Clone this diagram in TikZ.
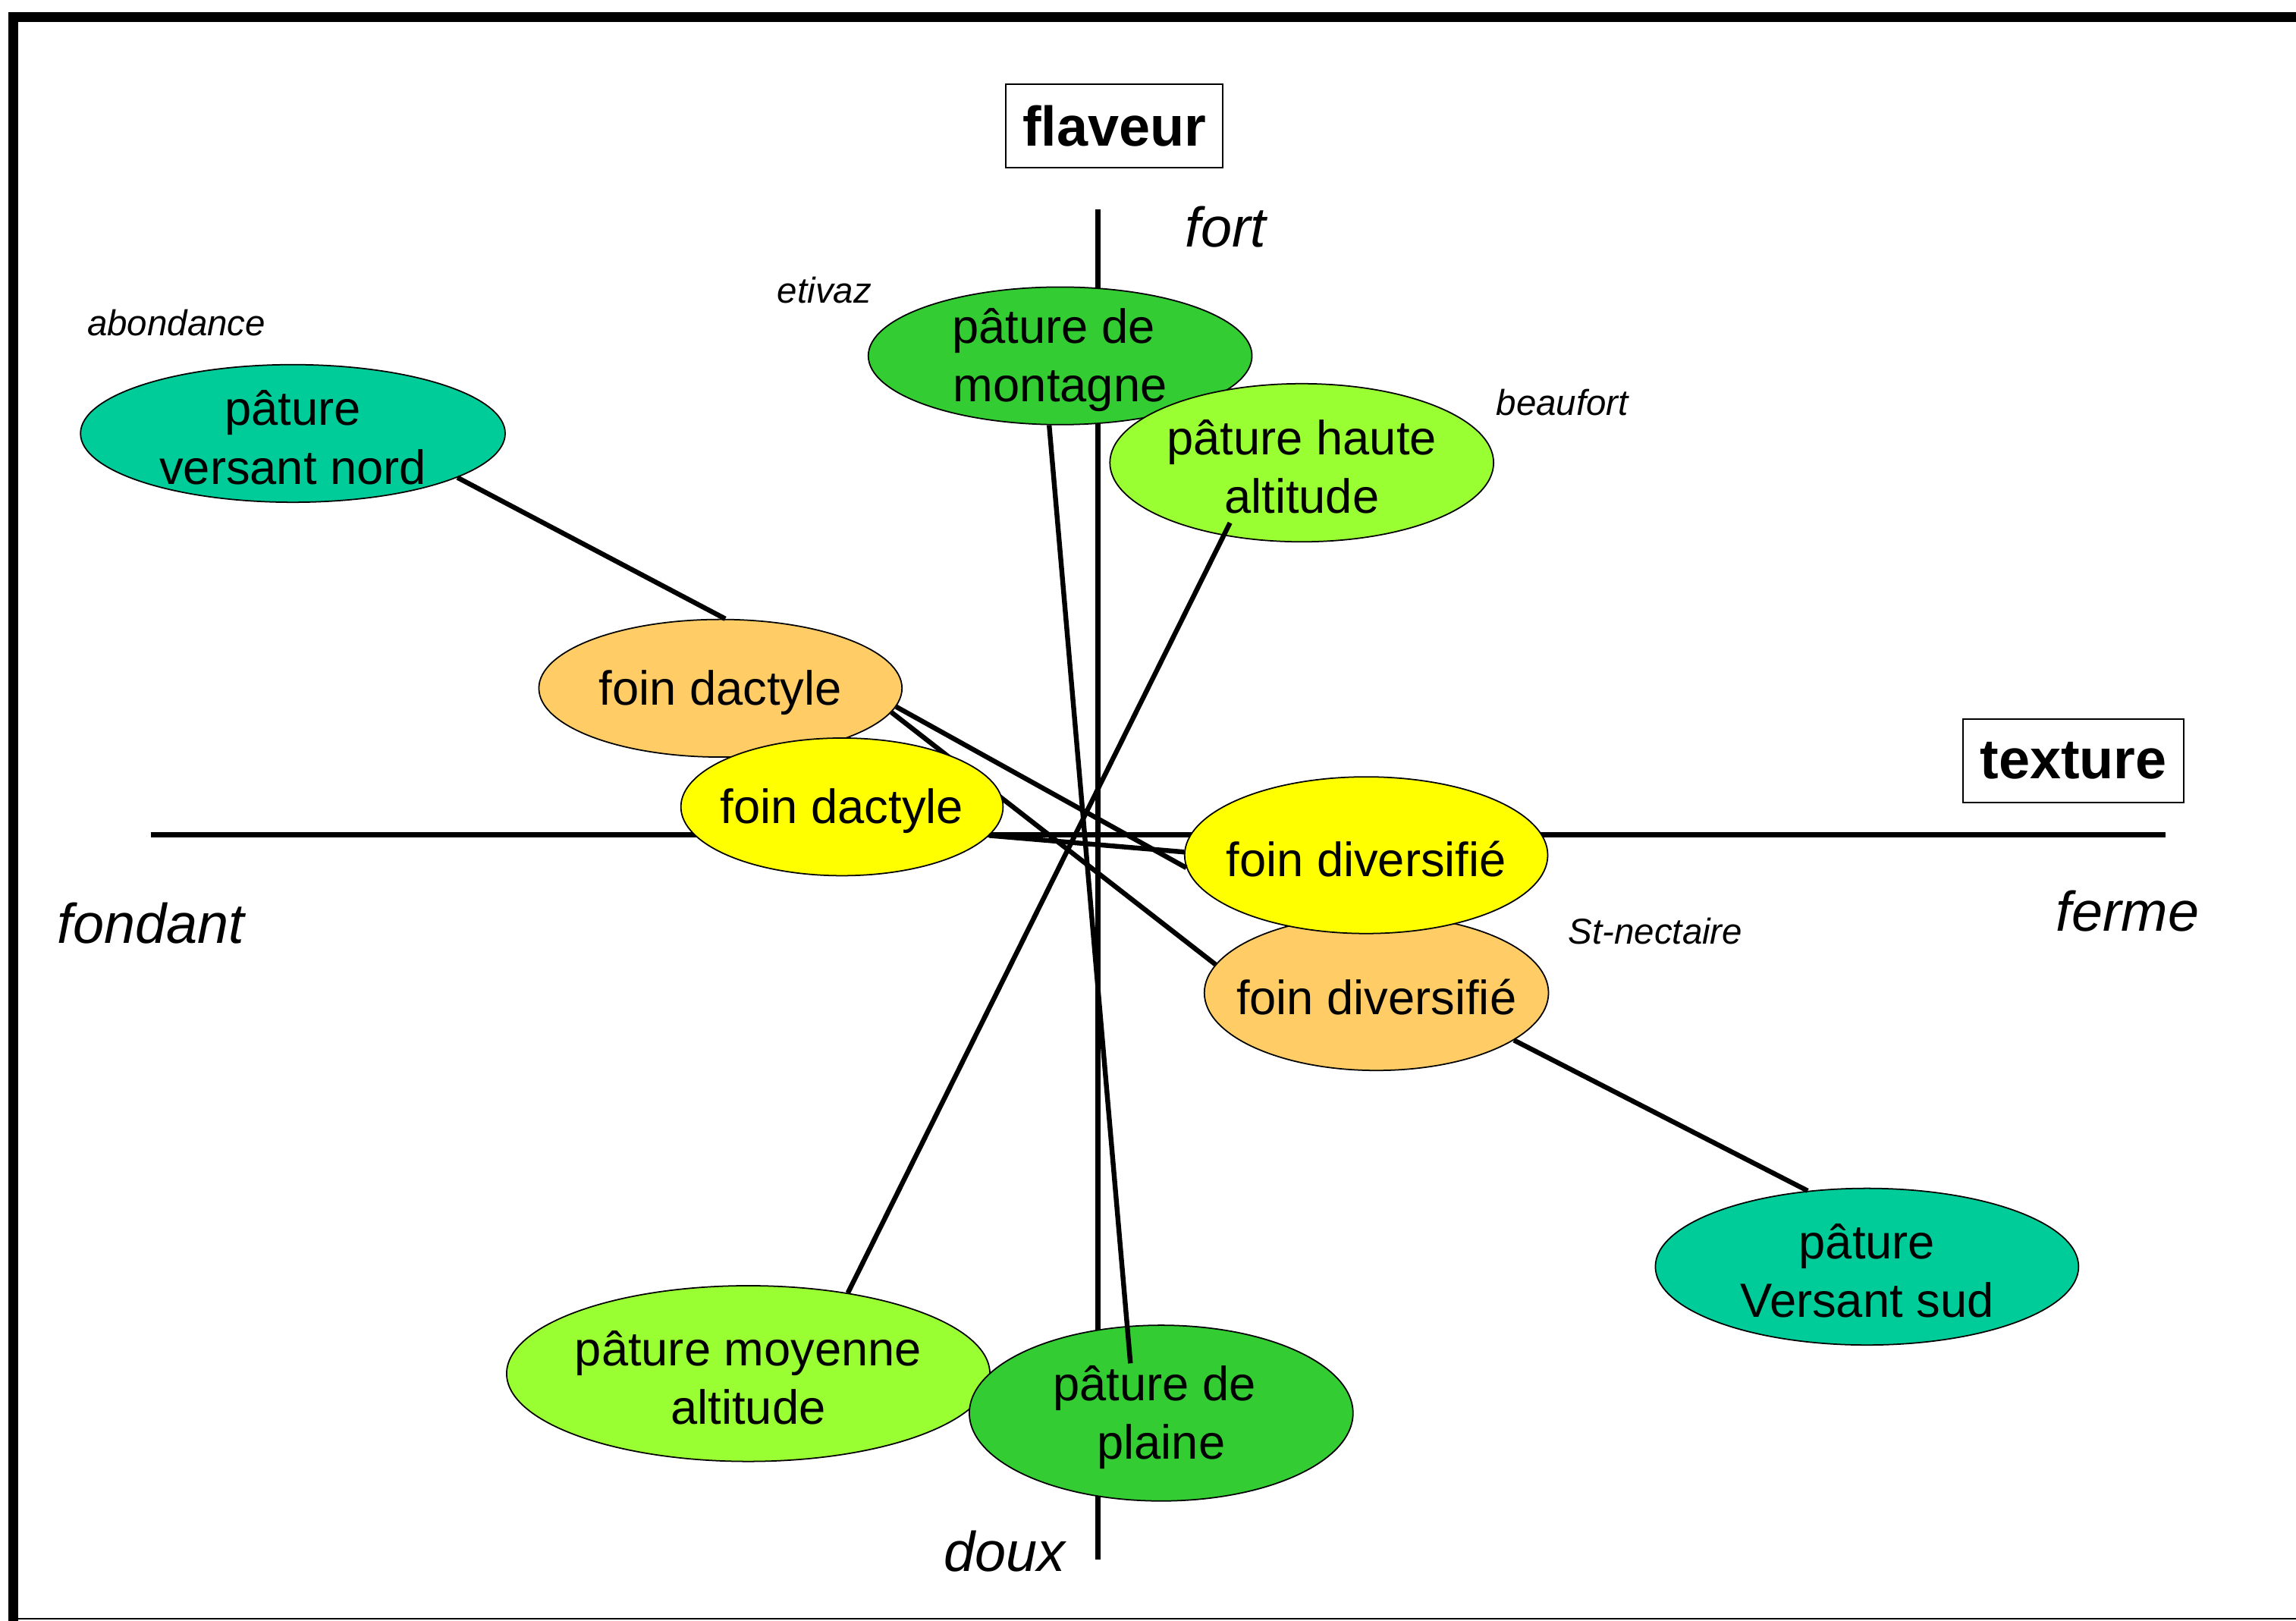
\documentclass[tikz,border=0pt]{standalone}
\usepackage{fontspec}
\setmainfont{Liberation Sans}
\usetikzlibrary{shapes.geometric,backgrounds}

\definecolor{pnord}{HTML}{00CC99}
\definecolor{pvert}{HTML}{33CC33}
\definecolor{palti}{HTML}{99FF33}
\definecolor{foinor}{HTML}{FFCC66}
\definecolor{foinjau}{HTML}{FFFF00}

\tikzset{
  pat/.style={ellipse,draw,line width=0.5pt,inner sep=0pt},
  txt/.style={font=\fontsize{18}{22}\selectfont,align=center,inner sep=0pt,yshift=-0.55mm},
  axe/.style={line width=0.69mm},
  lien/.style={line width=0.64mm},
  titre/.style={draw,line width=0.5pt,minimum height=11mm,font=\fontsize{21}{25}\selectfont\bfseries},
  pole/.style={inner sep=0pt,font=\fontsize{21}{25}\selectfont\itshape},
  fromage/.style={inner sep=0pt,font=\fontsize{13.5}{16}\selectfont\itshape}
}

\begin{document}
\begin{tikzpicture}[x=0.193mm,y=-0.193mm]
        \useasboundingbox (0,0) rectangle (1568,1106.5);
        %% Frame
        \draw[line width=1.33mm] (9,1112) -- (9,11.7) -- (1575,11.7);
        \draw[line width=0.4pt] (9,1105.4) -- (1575,1105.4);
        %% Axes
        \draw[axe] (103,570) -- (1479,570);
        \draw[axe] (750,143) -- (750,1065);
        \node[titre,minimum width=28.56mm] (flaveur) at (761,86) {flaveur};
        \node[titre,minimum width=29.05mm] (texture) at (1416,519.5) {texture};
        \node[pole] (fort) at (837,155) {fort};
        \node[pole] (doux) at (686,1059.5) {doux};
        \node[pole] (fondant) at (103,630.5) {fondant};
        \node[pole] (ferme) at (1453,622) {ferme};
        %% Cheeses
        \node[fromage] (abondance) at (120.5,220.5) {abondance};
        \node[fromage] (etivaz) at (563,198) {etivaz};
        \node[fromage] (beaufort) at (1067,275) {beaufort};
        \node[fromage] (nectaire) at (1130.5,636) {St-nectaire};
        %% Pastures and hays
        \node[pat,fill=pnord,minimum width=55.97mm,minimum height=18.14mm,label={[txt,name=tnord]center:pâture\\versant nord}] (nord) at (200,296) {};
        \node[pat,fill=pvert,minimum width=50.57mm,minimum height=18.14mm,label={[txt,name=tmontagne]center:pâture de\hspace{5pt}\null\\montagne}] (montagne) at (724,243) {};
        \node[pat,fill=palti,minimum width=50.57mm,minimum height=20.84mm,label={[txt,name=thaute]center:pâture haute\\altitude}] (haute) at (889,316) {};
        \node[pat,fill=foinor,minimum width=47.86mm,minimum height=18.14mm,label={[txt,name=tdaco]center:foin dactyle}] (daco) at (492,470) {};
        \node[pat,fill=foinjau,minimum width=42.46mm,minimum height=18.14mm,label={[txt,name=tdacj]center:foin dactyle}] (dacj) at (575,551) {};
        \node[pat,fill=foinor,minimum width=45.36mm,minimum height=20.46mm,label={[txt,name=tdivo]center:foin diversifié}] (divo) at (940,678) {};
        \node[pat,fill=foinjau,minimum width=47.86mm,minimum height=20.65mm,label={[txt,name=tdivj]center:foin diversifié}] (divj) at (933,584) {};
        \node[pat,fill=pnord,minimum width=55.78mm,minimum height=20.65mm,label={[txt,name=tsud]center:pâture\\Versant sud}] (sud) at (1275,865) {};
        \node[pat,fill=palti,minimum width=63.69mm,minimum height=23.16mm,label={[txt,name=tmoyenne]center:pâture moyenne\\altitude}] (moyenne) at (511,938) {};
        \node[pat,fill=pvert,minimum width=50.57mm,minimum height=23.16mm,label={[txt,name=tplaine]center:pâture de\hspace{5pt}\null\\plaine}] (plaine) at (793,965) {};
        %% Links
        \draw[lien] (nord.-15) -- (daco.86);
        \draw[lien] (montagne.261) -- ([shift={(-21,-34)}]plaine.center);
        \draw[lien] ([shift={(-49,41)}]haute.center) -- (moyenne.39);
        \draw[lien] (daco.-6) -- (divj.184);
        \draw[lien] (dacj.-11) -- (divj.179);
        \draw[lien] (divo.-19) -- (sud.128);
        \begin{scope}[on background layer]
          \draw[lien] (daco.-8) -- (divo.170);
        \end{scope}
\end{tikzpicture}
\end{document}
